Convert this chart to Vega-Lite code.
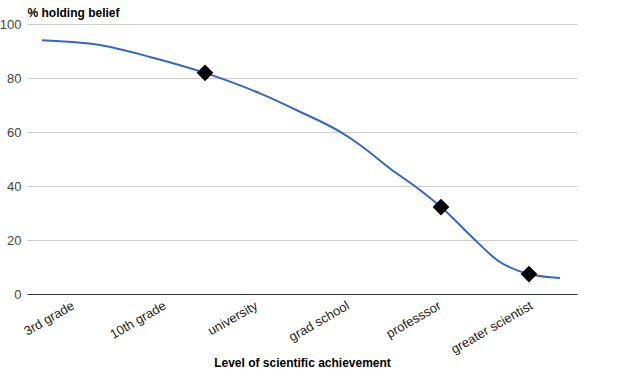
{
  "$schema": "https://vega.github.io/schema/vega-lite/v6.json",
  "width": 550,
  "height": 270,
  "autosize": {"type": "none"},
  "padding": {"left": 27, "top": 24, "right": 58, "bottom": 77},
  "background": "white",
  "config": {"view": {"stroke": null}, "font": "Liberation Sans"},
  "datasets": {
    "curve": [
      {"x": 0.164, "y": 94},
      {"x": 0.796, "y": 92.2},
      {"x": 1.342, "y": 87.8},
      {"x": 1.942, "y": 81.9},
      {"x": 2.542, "y": 74.3},
      {"x": 2.978, "y": 67.5},
      {"x": 3.414, "y": 60.1},
      {"x": 3.633, "y": 55.2},
      {"x": 3.96, "y": 46.5},
      {"x": 4.287, "y": 38.5},
      {"x": 4.516, "y": 32.2},
      {"x": 4.909, "y": 19.3},
      {"x": 5.127, "y": 12.6},
      {"x": 5.476, "y": 7.4},
      {"x": 5.814, "y": 5.9}
    ],
    "points": [
      {"x": 1.942, "y": 81.9},
      {"x": 4.516, "y": 32.2},
      {"x": 5.476, "y": 7.4}
    ]
  },
  "layer": [
    {
      "data": {"name": "curve"},
      "mark": {"type": "line", "interpolate": "monotone", "color": "#3366cc", "strokeWidth": 2},
      "encoding": {
        "x": {
          "field": "x", "type": "quantitative",
          "scale": {"domain": [0, 6], "nice": false, "zero": false},
          "axis": {
            "values": [0.5, 1.5, 2.5, 3.5, 4.5, 5.5],
            "labelExpr": "['3rd grade','10th grade','university','grad school','professsor','greater scientist'][floor(datum.value)]",
            "labelAngle": -30, "labelAlign": "right", "labelBaseline": "top",
            "labelFontSize": 13, "labelColor": "#222", "labelPadding": 5, "labelOffset": -3,
            "ticks": false, "grid": false,
            "domainColor": "#333", "domainWidth": 1,
            "title": "Level of scientific achievement",
            "titleFontSize": 12, "titleFontWeight": "bold", "titleColor": "#000",
            "titleY": 68, "titleBaseline": "middle"
          }
        },
        "y": {
          "field": "y", "type": "quantitative",
          "scale": {"domain": [0, 100], "nice": false},
          "axis": {
            "values": [0, 20, 40, 60, 80, 100],
            "ticks": false, "domain": false,
            "gridColor": "#cccccc", "labelColor": "#444", "labelFontSize": 13, "labelPadding": 6,
            "title": "% holding belief", "titleAngle": 0, "titleAlign": "left",
            "titleX": 0, "titleY": -12, "titleBaseline": "middle",
            "titleFontSize": 12, "titleFontWeight": "bold", "titleColor": "#000"
          }
        }
      }
    },
    {
      "data": {"name": "points"},
      "mark": {"type": "point", "shape": "diamond", "filled": true, "color": "#000", "size": 280, "opacity": 1},
      "encoding": {
        "x": {"field": "x", "type": "quantitative"},
        "y": {"field": "y", "type": "quantitative"}
      }
    }
  ]
}
